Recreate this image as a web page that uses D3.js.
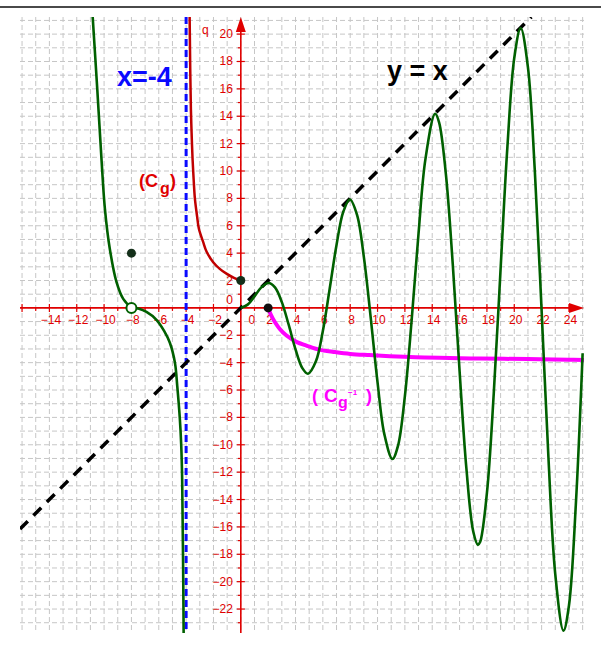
<!DOCTYPE html>
<html>
<head>
<meta charset="utf-8">
<script src="https://cdn.jsdelivr.net/npm/d3@7"></script>
<style>
  body { margin: 0; background: #fff; }
  svg { display: block; }
</style>
</head>
<body>
<div id="chart"></div>
<script>
// Libellés des axes
const xLabels = [-14, -12, -10, -8, -6, -4, -2, 2, 4, 6, 8, 10, 12, 14, 16, 18, 20, 22, 24];
const yLabels = [20, 18, 16, 14, 12, 10, 8, 6, 4, 2, -2, -4, -6, -8, -10, -12, -14, -16, -18, -20, -22];

// Courbe verte, branche gauche (x < -4)
const leftBranch = [
  [-10.85, 21.5], [-10.5, 16.0], [-10.18, 10.7], [-9.94, 7.24], [-9.58, 4.3],
  [-9.09, 1.88], [-8.6, 0.66], [-8.0, 0.05], [-7.5, -0.05], [-6.9, -0.3],
  [-6.17, -0.87], [-5.6, -1.7], [-5.19, -2.55], [-4.82, -4.0], [-4.65, -5.7],
  [-4.46, -8.1], [-4.36, -10.0], [-4.29, -12.5], [-4.25, -16.0], [-4.21, -20.0],
  [-4.18, -24.0]
];

// Courbe verte, branche droite (x >= 0), oscillations qui touchent y = x
const rightBranch = [
  [0, 0], [0.5, 0.24], [1, 0.84], [1.5, 1.5], [2.03, 1.82], [2.5, 1.5], [3, 0.42],
  [3.5, -1.23], [4, -3.03], [4.5, -4.4], [4.91, -4.81], [5.5, -3.88], [6, -1.68],
  [6.5, 1.4], [7, 4.6], [7.5, 7.04], [7.98, 7.92], [8.5, 6.79], [9, 3.71],
  [9.5, -0.71], [10, -5.44], [10.5, -9.24], [11.09, -11.04], [11.5, -10.06],
  [12, -6.44], [12.5, -0.83], [13, 5.46], [13.5, 10.85], [14.21, 14.18],
  [14.5, 13.56], [15, 9.75], [15.5, 3.21], [16, -4.61], [16.5, -11.75],
  [17, -16.34], [17.34, -17.31], [17.5, -17.11], [18, -13.52], [18.5, -6.25],
  [19, 2.85], [19.5, 11.8], [20, 18.26], [20.47, 20.45], [21, 17.57],
  [21.5, 10.07], [22, -0.2], [22.5, -10.95], [23, -19.46], [23.6, -23.58],
  [24, -21.74], [24.5, -14.42], [25, -3.31]
];

// Courbe rouge (C_g) sur ]-4 ; 0] ; la courbe magenta est sa symétrique
const gCurve = [
  [-3.8, 25.1], [-3.78, 24.0], [-3.74, 21.0], [-3.7, 17.5], [-3.65, 14.5],
  [-3.6, 12.8], [-3.53, 10.9], [-3.45, 9.4], [-3.36, 8.0], [-3.2, 6.7],
  [-3.07, 5.8], [-2.75, 4.8], [-2.5, 4.1], [-2.02, 3.34], [-1.54, 2.85],
  [-1.05, 2.5], [-0.5, 2.2], [0, 2.0]
];

const fullDots = [[-8, 4, '#14301a'], [0, 2, '#14301a'], [2, 0, '#111']];
const openDots = [[-8, 0]];
const asymptoteX = -4;
const diagonal = [[-16.15, -16.15], [21.25, 21.25]];

const W = 601, H = 645;
const pLeft = 20, pRight = 584, pTop = 17, pBottom = 633;
const red = '#e00000';

const svg = d3.select('#chart').append('svg')
  .attr('width', W).attr('height', H)
  .style('font-family', '"Liberation Sans", Arial, sans-serif');

const x = d3.scaleLinear().domain([-16.15, 25.1]).range([pLeft, pRight]);
const y = d3.scaleLinear().domain([-23.75, 21.25]).range([pBottom, pTop]);

// trait du haut
svg.append('line').attr('x1', 0).attr('x2', W).attr('y1', 7).attr('y2', 7)
  .attr('stroke', '#4a4a4a').attr('stroke-width', 2);

svg.append('clipPath').attr('id', 'plot')
  .append('rect').attr('x', pLeft).attr('y', pTop)
  .attr('width', pRight - pLeft).attr('height', pBottom - pTop);

// Quadrillage pointillé
const grid = svg.append('g').attr('stroke', '#c6c6c6').attr('stroke-width', 1)
  .attr('stroke-dasharray', '5,3');
grid.selectAll('.gx').data(d3.range(-16, 26)).enter().append('line')
  .attr('x1', d => x(d)).attr('x2', d => x(d)).attr('y1', pTop).attr('y2', pBottom);
grid.selectAll('.gy').data(d3.range(-23, 22)).enter().append('line')
  .attr('y1', d => y(d)).attr('y2', d => y(d)).attr('x1', pLeft).attr('x2', pRight);

// Axes
const axes = svg.append('g');
axes.append('line').attr('x1', pLeft).attr('x2', pRight - 10)
  .attr('y1', y(0)).attr('y2', y(0)).attr('stroke', red).attr('stroke-width', 1.6);
axes.append('line').attr('x1', x(0)).attr('x2', x(0))
  .attr('y1', pBottom).attr('y2', pTop + 10).attr('stroke', red).attr('stroke-width', 1.6);
axes.append('path')
  .attr('d', `M${pRight},${y(0)} L${pRight - 15},${y(0) - 5} L${pRight - 15},${y(0) + 5} Z`)
  .attr('fill', red);
axes.append('path')
  .attr('d', `M${x(0)},${pTop} L${x(0) - 5},${pTop + 15} L${x(0) + 5},${pTop + 15} Z`)
  .attr('fill', red);

// graduations
d3.range(-16, 25).filter(d => d !== 0).forEach(d => {
  const major = d % 2 === 0;
  axes.append('line').attr('x1', x(d)).attr('x2', x(d))
    .attr('y1', y(0) - (major ? 4 : 0)).attr('y2', y(0) + (major ? 4 : 3))
    .attr('stroke', red).attr('stroke-width', 1.2);
});
d3.range(-23, 21).filter(d => d !== 0).forEach(d => {
  const major = d % 2 === 0;
  axes.append('line').attr('y1', y(d)).attr('y2', y(d))
    .attr('x1', x(0) - (major ? 4 : 3)).attr('x2', x(0) + (major ? 4 : 0))
    .attr('stroke', red).attr('stroke-width', 1.2);
});

const fmt = d => d < 0 ? '\u2212' + Math.abs(d) : String(d);
axes.selectAll('.xl').data(xLabels).enter().append('text')
  .attr('x', d => x(d) + 1.5).attr('y', y(0) + 16)
  .attr('text-anchor', 'middle').attr('font-size', 12).attr('fill', red)
  .text(fmt);
axes.selectAll('.yl').data(yLabels).enter().append('text')
  .attr('x', x(0) - 8).attr('y', d => y(d) + 4)
  .attr('text-anchor', 'end').attr('font-size', 12).attr('fill', red)
  .text(fmt);
axes.append('text').attr('x', x(0) + 11).attr('y', y(0) + 16)
  .attr('text-anchor', 'middle').attr('font-size', 12).attr('fill', red).text('0');
axes.append('text').attr('x', x(0) - 8).attr('y', y(0) - 4)
  .attr('text-anchor', 'end').attr('font-size', 12).attr('fill', red).text('0');
axes.append('text').attr('x', 202).attr('y', 34)
  .attr('font-size', 12).attr('fill', red).text('q');

// Courbes
const plot = svg.append('g').attr('clip-path', 'url(#plot)');
const line = d3.line().x(d => x(d[0])).y(d => y(d[1])).curve(d3.curveCatmullRom.alpha(0.5));

plot.append('line')
  .attr('x1', x(asymptoteX)).attr('x2', x(asymptoteX)).attr('y1', pTop).attr('y2', pBottom)
  .attr('stroke', '#0a0aff').attr('stroke-width', 3).attr('stroke-dasharray', '7,4');

plot.append('path').attr('d', line(diagonal))
  .attr('fill', 'none').attr('stroke', '#000').attr('stroke-width', 3.5)
  .attr('stroke-dasharray', '11,8');

plot.append('path').attr('d', line(gCurve.map(d => [d[1], d[0]])))
  .attr('fill', 'none').attr('stroke', '#ff00ff').attr('stroke-width', 4);

plot.append('path').attr('d', line(gCurve))
  .attr('fill', 'none').attr('stroke', '#c00000').attr('stroke-width', 2.5);

[leftBranch, rightBranch].forEach(pts => {
  plot.append('path').attr('d', line(pts))
    .attr('fill', 'none').attr('stroke', '#006000').attr('stroke-width', 2.6);
});

// Points
svg.selectAll('.dot').data(fullDots).enter().append('circle')
  .attr('cx', d => x(d[0])).attr('cy', d => y(d[1])).attr('r', 4.5)
  .attr('fill', d => d[2]);
svg.selectAll('.odot').data(openDots).enter().append('circle')
  .attr('cx', d => x(d[0])).attr('cy', d => y(d[1])).attr('r', 5)
  .attr('fill', '#fff').attr('stroke', '#006000').attr('stroke-width', 2);

// Textes
svg.append('text').attr('x', 117).attr('y', 86)
  .attr('font-size', 27).attr('font-weight', 'bold').attr('fill', '#0a0aff')
  .text('x=-4');
svg.append('text').attr('x', 387).attr('y', 80)
  .attr('font-size', 27).attr('font-weight', 'bold').attr('fill', '#000')
  .text('y = x');

const cg = svg.append('text').attr('font-weight', 'bold').attr('fill', red);
cg.append('tspan').attr('x', 139).attr('y', 187).attr('font-size', 18).text('(C');
cg.append('tspan').attr('x', 160).attr('y', 194).attr('font-size', 16).text('g');
cg.append('tspan').attr('x', 170).attr('y', 187).attr('font-size', 18).text(')');

const cgi = svg.append('text').attr('font-weight', 'bold').attr('fill', '#ff00ff');
cgi.append('tspan').attr('x', 312).attr('y', 402).attr('font-size', 18).text('(');
cgi.append('tspan').attr('x', 324).attr('y', 402).attr('font-size', 19).text('C');
cgi.append('tspan').attr('x', 338).attr('y', 408).attr('font-size', 16).text('g');
cgi.append('tspan').attr('x', 348).attr('y', 395).attr('font-size', 8).text('\u22121');
cgi.append('tspan').attr('x', 366).attr('y', 402).attr('font-size', 18).text(')');
</script>
</body>
</html>
